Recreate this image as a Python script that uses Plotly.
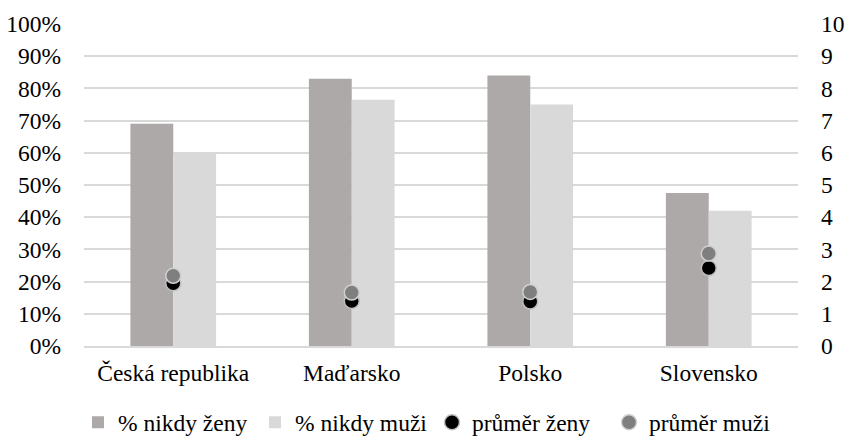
import plotly.graph_objects as go

categories = ["Česká republika", "Maďarsko", "Polsko", "Slovensko"]
nikdy_zeny = [0.69, 0.83, 0.84, 0.475]
nikdy_muzi = [0.60, 0.765, 0.75, 0.42]
prumer_zeny = [1.95, 1.4, 1.38, 2.42]
prumer_muzi = [2.18, 1.66, 1.68, 2.87]

FONT = "Times New Roman, Liberation Serif, serif"
FS = 23.5

fig = go.Figure()
fig.add_trace(go.Bar(name="% nikdy ženy", x=categories, y=nikdy_zeny,
                     marker=dict(color="#ADA9A9", line=dict(width=0))))
fig.add_trace(go.Bar(name="% nikdy muži", x=categories, y=nikdy_muzi,
                     marker=dict(color="#D9D9D9", line=dict(width=0))))
fig.add_trace(go.Scatter(name="průměr ženy", x=categories, y=prumer_zeny, yaxis="y2",
                         mode="markers",
                         marker=dict(color="#000000", size=15,
                                     line=dict(color="#BFBFBF", width=1.5))))
fig.add_trace(go.Scatter(name="průměr muži", x=categories, y=prumer_muzi, yaxis="y2",
                         mode="markers",
                         marker=dict(color="#7F7F7F", size=15,
                                     line=dict(color="#D0D0D0", width=1.5))))

fig.update_layout(
    width=846, height=436,
    margin=dict(l=84, r=48, t=24, b=90),
    paper_bgcolor="white", plot_bgcolor="white",
    font=dict(family=FONT, size=FS, color="#000000"),
    barmode="group", bargap=0.52, bargroupgap=0,
    showlegend=True,
    legend=dict(orientation="h", xref="container", yref="container",
                x=78 / 846, xanchor="left", y=0.031, yanchor="middle",
                font=dict(family=FONT, size=FS, color="#000000"),
                entrywidth=132, entrywidthmode="pixels",
                itemwidth=30, bgcolor="rgba(0,0,0,0)"),
    xaxis=dict(showgrid=False, showline=True, linecolor="#D9D9D9", linewidth=1.5,
               ticks="", ticklabelstandoff=5, tickfont=dict(size=FS), automargin=False),
    yaxis=dict(range=[0, 1], dtick=0.1, tickformat=".0%", showgrid=True,
               gridcolor="#D9D9D9", gridwidth=1.5, zeroline=False, ticks="",
               ticklabelstandoff=22, tickfont=dict(size=FS), automargin=False),
    yaxis2=dict(range=[0, 10], dtick=1, overlaying="y", side="right", showgrid=False,
                zeroline=False, ticks="", ticklabelstandoff=22, tickfont=dict(size=FS),
                automargin=False),
)

fig.write_html("out.html", config={"displayModeBar": False},
               post_script="document.body.style.margin='0';document.body.style.overflow='hidden';")
